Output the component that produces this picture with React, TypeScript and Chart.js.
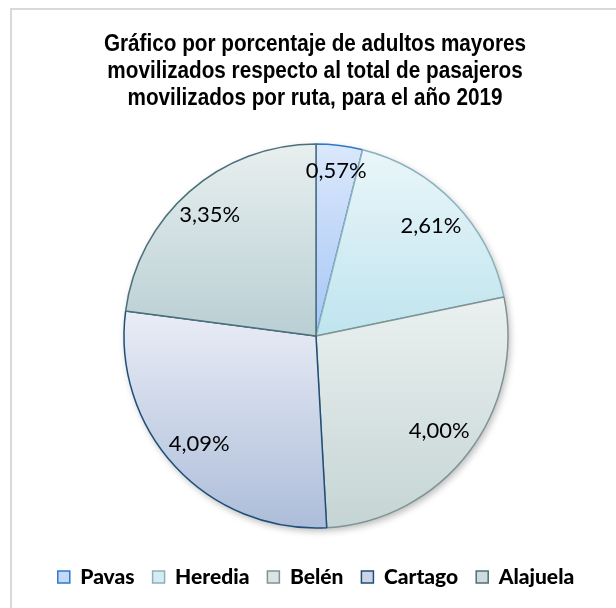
import React, { useEffect, useRef } from "react";
import { Chart, registerables } from "chart.js";

Chart.register(...registerables);

const TITLE_LINES = [
  "Gráfico por porcentaje de adultos mayores",
  "movilizados respecto al total de pasajeros",
  "movilizados por ruta, para el año 2019",
];
const CATEGORIES = ["Pavas", "Heredia", "Belén", "Cartago", "Alajuela"];
const VALUES = [0.57, 2.61, 4.0, 4.09, 3.35];

const GRADIENT_TOP = ["#dbe8fc", "#eaf6f9", "#eaf1f0", "#e9edf6", "#e8efef"];
const GRADIENT_BOTTOM = ["#a6c6f5", "#bfe4ee", "#c5d4d4", "#adbdd9", "#b9cfd3"];
const BORDER_COLORS = ["#2f78c8", "#8ab1bd", "#7f9393", "#1f4e79", "#4d6f7b"];
const LEGEND_FILLS = ["#c3d9fb", "#d4edf4", "#dbe4e4", "#ccd5e8", "#cedbdd"];
const LABEL_RADIUS = [0.865, 0.83, 0.81, 0.83, 0.84];
const PIE_RADIUS = 192;

function formatPct(v: number) {
  return v.toFixed(2).replace(".", ",") + "%";
}

function sliceGradient(context: any) {
  const chart = context.chart;
  const i = context.dataIndex;
  const area = chart.chartArea;
  if (!area || i === undefined) return GRADIENT_BOTTOM[i ?? 0];
  const cx = (area.left + area.right) / 2;
  const cy = (area.top + area.bottom) / 2;
  const total = VALUES.reduce((a, b) => a + b, 0);
  let cum = 0;
  for (let k = 0; k < i; k++) cum += VALUES[k];
  const start = -Math.PI / 2 + (2 * Math.PI * cum) / total;
  const end = start + (2 * Math.PI * VALUES[i]) / total;
  const ys = [cy, cy + PIE_RADIUS * Math.sin(start), cy + PIE_RADIUS * Math.sin(end)];
  const inRange = (a: number) => {
    let t = a;
    while (t < start) t += 2 * Math.PI;
    return t <= end;
  };
  if (inRange(-Math.PI / 2)) ys.push(cy - PIE_RADIUS);
  if (inRange(Math.PI / 2)) ys.push(cy + PIE_RADIUS);
  const minY = Math.min(...ys);
  const maxY = Math.max(...ys);
  const g = chart.ctx.createLinearGradient(0, minY, 0, maxY);
  g.addColorStop(0, GRADIENT_TOP[i]);
  g.addColorStop(1, GRADIENT_BOTTOM[i]);
  return g;
}

const titlePlugin = {
  id: "narrowTitle",
  afterDraw(chart: any) {
    const ctx = chart.ctx;
    ctx.save();
    ctx.font = "bold 23px 'Liberation Sans', Arial, sans-serif";
    ctx.fillStyle = "#000000";
    ctx.textAlign = "center";
    ctx.textBaseline = "middle";
    const cx = 315;
    TITLE_LINES.forEach((line, i) => {
      ctx.save();
      ctx.translate(cx, 45 + i * 27);
      ctx.scale(0.9, 1);
      ctx.fillText(line, 0, 0);
      ctx.restore();
    });
    ctx.restore();
  },
};

const shadowPlugin = {
  id: "pieShadow",
  beforeDatasetsDraw(chart: any) {
    const meta = chart.getDatasetMeta(0);
    const arc: any = meta.data[0];
    if (!arc) return;
    const ctx = chart.ctx;
    ctx.save();
    ctx.shadowColor = "rgba(0,0,0,0.28)";
    ctx.shadowBlur = 7;
    ctx.shadowOffsetX = 2;
    ctx.shadowOffsetY = 3;
    ctx.fillStyle = "#ffffff";
    ctx.beginPath();
    ctx.arc(arc.x, arc.y, arc.outerRadius, 0, Math.PI * 2);
    ctx.fill();
    ctx.restore();
  },
};

const labelPlugin = {
  id: "sliceLabels",
  afterDatasetsDraw(chart: any) {
    const ctx = chart.ctx;
    const meta = chart.getDatasetMeta(0);
    ctx.save();
    ctx.font = "400 22px Lato, 'Open Sans', sans-serif";
    ctx.fillStyle = "#000000";
    ctx.textAlign = "center";
    ctx.textBaseline = "middle";
    meta.data.forEach((arc: any, i: number) => {
      const p = arc.getProps(["x", "y", "startAngle", "endAngle", "outerRadius"], true);
      const mid = (p.startAngle + p.endAngle) / 2;
      const r = p.outerRadius * LABEL_RADIUS[i];
      ctx.fillText(formatPct(VALUES[i]), p.x + Math.cos(mid) * r, p.y + Math.sin(mid) * r);
    });
    ctx.restore();
  },
};

export default function App() {
  const canvasRef = useRef<HTMLCanvasElement | null>(null);

  useEffect(() => {
    if (!canvasRef.current) return;
    const chart = new Chart(canvasRef.current, {
      type: "pie",
      data: {
        labels: CATEGORIES,
        datasets: [
          {
            data: VALUES,
            backgroundColor: sliceGradient as any,
            borderColor: BORDER_COLORS,
            borderWidth: 1.5,
            radius: PIE_RADIUS,
          } as any,
        ],
      },
      options: {
        animation: false,
        responsive: false,
        devicePixelRatio: 1,
        layout: { padding: { left: 16, right: 0, top: 123.5, bottom: 10.5 } },
        plugins: {
          tooltip: { enabled: false },
          title: { display: false },
          legend: {
            display: true,
            position: "bottom",
            labels: {
              boxWidth: 12,
              boxHeight: 12,
              padding: 18,
              color: "#000000",
              font: { family: "Lato, 'Open Sans', sans-serif", size: 21, weight: "900" },
              generateLabels: () =>
                CATEGORIES.map((c, i) => ({
                  text: c,
                  fillStyle: LEGEND_FILLS[i],
                  strokeStyle: BORDER_COLORS[i],
                  lineWidth: 1.5,
                  fontColor: "#000000",
                  hidden: false,
                  index: i,
                  datasetIndex: 0,
                })),
            },
          },
        },
      },
      plugins: [shadowPlugin, labelPlugin, titlePlugin],
    });
    return () => chart.destroy();
  }, []);

  return (
    <div
      style={{
        position: "fixed",
        left: 0,
        top: 0,
        width: 616,
        height: 608,
        overflow: "hidden",
        background: "#ffffff",
      }}
    >
      <div
        style={{
          position: "absolute",
          left: 10,
          top: 8,
          width: 700,
          height: 700,
          border: "2px solid #d9d9d9",
        }}
      />
      <canvas
        ref={canvasRef}
        width={616}
        height={608}
        style={{ position: "absolute", left: 0, top: 0, width: 616, height: 608 }}
      />
    </div>
  );
}
